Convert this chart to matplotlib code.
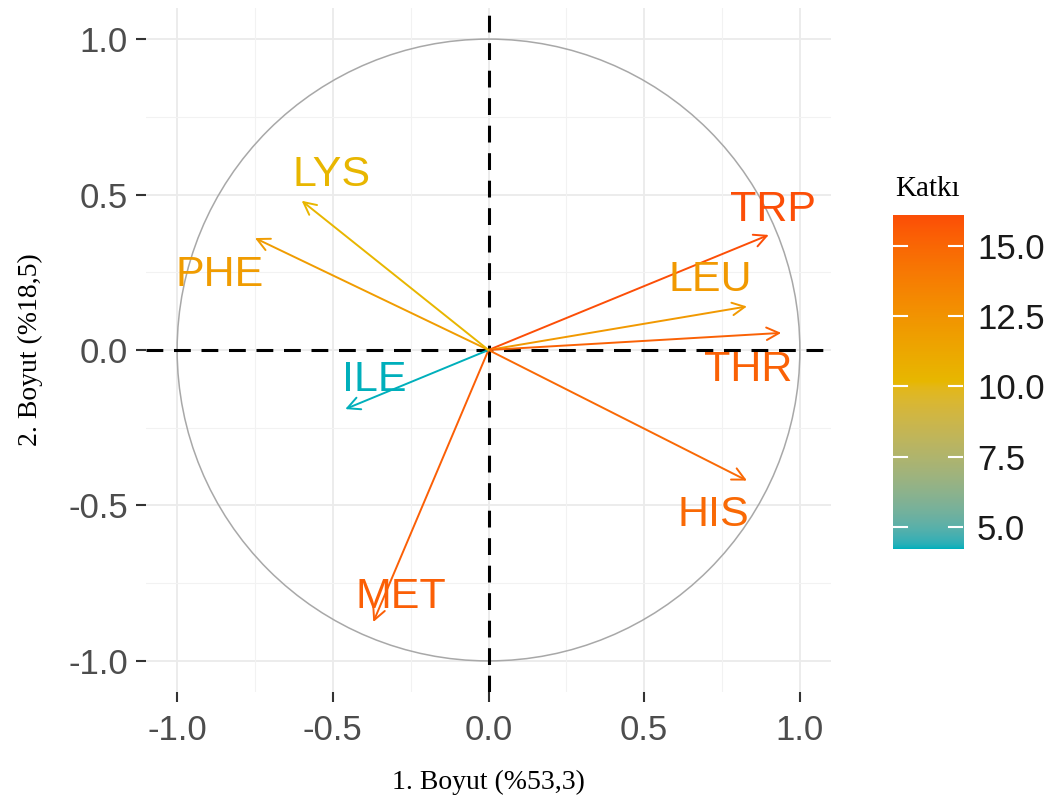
import numpy as np
import matplotlib
matplotlib.use("Agg")
import matplotlib.pyplot as plt
from matplotlib.colors import ListedColormap, Normalize, to_rgb
from matplotlib.patches import Circle

# ---- data ----
variables = ["TRP", "LEU", "THR", "HIS", "MET", "ILE", "PHE", "LYS"]
dim1 = [0.90, 0.83, 0.94, 0.83, -0.37, -0.46, -0.75, -0.60]
dim2 = [0.37, 0.14, 0.055, -0.42, -0.875, -0.19, 0.36, 0.48]
contrib = [16.1, 12.2, 15.3, 14.9, 15.4, 4.22, 12.0, 10.3]
ticks = [-1.0, -0.5, 0.0, 0.5, 1.0]
cbar_ticks = [5.0, 7.5, 10.0, 12.5, 15.0]
xlabel = "1. Boyut (%53,3)"
ylabel = "2. Boyut (%18,5)"
legend_title = "Katkı"
gradient_cols = ["#00AFBB", "#E7B800", "#FC4E07"]

# label placement (layout only)
label_pos = {
    "TRP": (0.913, 0.45), "LEU": (0.711, 0.225), "THR": (0.833, -0.064),
    "HIS": (0.723, -0.531), "MET": (-0.28, -0.794), "ILE": (-0.367, -0.096),
    "PHE": (-0.865, 0.241), "LYS": (-0.505, 0.563),
}

# ---- Lab-space gradient (like ggplot2 gradientn) ----
def srgb_to_lab(rgb):
    rgb = np.asarray(rgb, float)
    lin = np.where(rgb <= 0.04045, rgb / 12.92, ((rgb + 0.055) / 1.055) ** 2.4)
    M = np.array([[0.4124, 0.3576, 0.1805],
                  [0.2126, 0.7152, 0.0722],
                  [0.0193, 0.1192, 0.9505]])
    xyz = lin @ M.T
    white = np.array([0.95047, 1.0, 1.08883])
    t = xyz / white
    f = np.where(t > (6/29) ** 3, np.cbrt(t), t / (3 * (6/29) ** 2) + 4/29)
    L = 116 * f[..., 1] - 16
    a = 500 * (f[..., 0] - f[..., 1])
    b = 200 * (f[..., 1] - f[..., 2])
    return np.stack([L, a, b], -1)

def lab_to_srgb(lab):
    lab = np.asarray(lab, float)
    fy = (lab[..., 0] + 16) / 116
    fx = fy + lab[..., 1] / 500
    fz = fy - lab[..., 2] / 200
    f = np.stack([fx, fy, fz], -1)
    t = np.where(f > 6/29, f ** 3, 3 * (6/29) ** 2 * (f - 4/29))
    white = np.array([0.95047, 1.0, 1.08883])
    xyz = t * white
    Minv = np.array([[3.2406, -1.5372, -0.4986],
                     [-0.9689, 1.8758, 0.0415],
                     [0.0557, -0.2040, 1.0570]])
    lin = xyz @ Minv.T
    lin = np.clip(lin, 0, 1)
    rgb = np.where(lin <= 0.0031308, 12.92 * lin, 1.055 * lin ** (1/2.4) - 0.055)
    return np.clip(rgb, 0, 1)

labs = srgb_to_lab([to_rgb(c) for c in gradient_cols])
pos = np.linspace(0, 1, len(gradient_cols))
s = np.linspace(0, 1, 512)
lab_interp = np.stack([np.interp(s, pos, labs[:, k]) for k in range(3)], -1)
cmap = ListedColormap(lab_to_srgb(lab_interp))
norm = Normalize(vmin=min(contrib), vmax=max(contrib))

fig = plt.figure(figsize=(10.53, 8.10), dpi=100)
ax = fig.add_axes([146/1053, 1-692/810, 685/1053, 684/810])
ax.set_xlim(-1.1, 1.1)
ax.set_ylim(-1.1, 1.1)
ax.set_facecolor("white")
for sp in ax.spines.values():
    sp.set_visible(False)

# grid
minor = [-0.75, -0.25, 0.25, 0.75]
for v in ticks:
    ax.axvline(v, color="#EBEBEB", lw=1.3, zorder=0)
    ax.axhline(v, color="#EBEBEB", lw=1.3, zorder=0)
for v in minor:
    ax.axvline(v, color="#F2F2F2", lw=0.8, zorder=0)
    ax.axhline(v, color="#F2F2F2", lw=0.8, zorder=0)

# circle
ax.add_patch(Circle((0, 0), 1.0, fill=False, ec="#A8A8A8", lw=1.1, zorder=1))

# dashed axes
ax.axhline(0, color="black", lw=2.2, ls=(0, (5.5, 3.5)), zorder=2)
ax.axvline(0, color="black", lw=2.2, ls=(0, (5.5, 3.5)), zorder=2)

for name, x, y, c in zip(variables, dim1, dim2, contrib):
    col = cmap(norm(c))
    ax.annotate("", xy=(x, y), xytext=(0, 0),
                arrowprops=dict(arrowstyle="->,head_length=0.9,head_width=0.45",
                                color=col, lw=1.4, shrinkA=0, shrinkB=0),
                zorder=3)
    lx, ly = label_pos[name]
    ax.text(lx, ly, name, color=col, fontsize=31, family="Liberation Sans",
            ha="center", va="center", zorder=4)

ax.set_xticks(ticks)
ax.set_yticks(ticks)
ax.set_xticklabels([f"{t:.1f}" for t in ticks])
ax.set_yticklabels([f"{t:.1f}" for t in ticks])
ax.tick_params(axis="both", length=7, width=1.5, color="#333333",
               labelcolor="#4D4D4D", labelsize=25, pad=6)
ax.tick_params(axis="x", pad=9)
for lab in ax.get_xticklabels() + ax.get_yticklabels():
    lab.set_family("Liberation Sans")

ax.set_xlabel(xlabel, family="Liberation Serif", fontsize=20, color="black", labelpad=16)
ax.set_ylabel(ylabel, family="Liberation Serif", fontsize=20, color="black", labelpad=18)

# colorbar
cax = fig.add_axes([893/1053, 1-549/810, 70/1053, 334/810])
grad = np.linspace(norm.vmin, norm.vmax, 256).reshape(-1, 1)
cax.imshow(grad, cmap=cmap, norm=norm, aspect="auto", origin="lower",
           extent=[0, 1, norm.vmin, norm.vmax])
cax.set_xlim(0, 1)
cax.set_ylim(norm.vmin, norm.vmax)
cax.set_xticks([])
for sp in cax.spines.values():
    sp.set_visible(False)
cax.yaxis.tick_right()
cax.set_yticks(cbar_ticks)
cax.set_yticklabels([f"{t:.1f}" for t in cbar_ticks])
cax.tick_params(axis="y", length=0, labelsize=25, labelcolor="#1A1A1A", pad=10)
for lab in cax.get_yticklabels():
    lab.set_family("Liberation Sans")
for t in cbar_ticks:
    cax.plot([0, 0.2], [t, t], color="white", lw=1.5)
    cax.plot([0.8, 1.0], [t, t], color="white", lw=1.5)
cax.set_title(legend_title, family="Liberation Serif", fontsize=21, pad=14)

fig.savefig("out.png", dpi=100)
